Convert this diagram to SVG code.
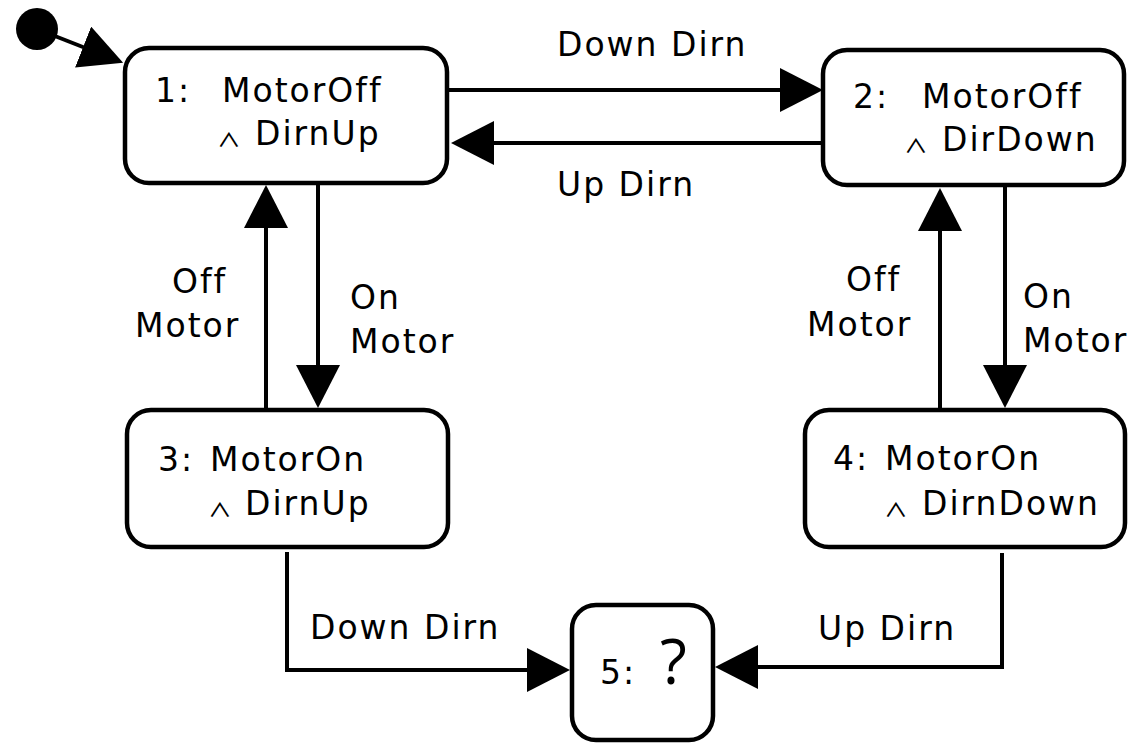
<svg xmlns="http://www.w3.org/2000/svg" width="1128" height="743" viewBox="0 0 1128 743">
  <style>
    .state { fill: #ffffff; stroke: #000000; stroke-width: 4.5; }
    .edge { fill: none; stroke: #000000; stroke-width: 4; marker-end: url(#arrow); }
    text { font-family: "DejaVu Sans", Verdana, sans-serif; font-size: 33px; letter-spacing: 2px; fill: #000000; }
    .and { font-family: "Noto Sans CJK SC", "DejaVu Sans", sans-serif; font-weight: 500; font-size: 28px; letter-spacing: 0; }
    .big { font-family: "Open Sans", "DejaVu Sans", sans-serif; font-size: 62px; letter-spacing: 0; }
  </style>
  <defs>
    <marker id="arrow" viewBox="0 0 43 44" refX="23" refY="22" markerWidth="43" markerHeight="44" markerUnits="userSpaceOnUse" orient="auto">
      <path d="M0,0 L43,22 L0,44 Z" fill="#000000"/>
    </marker>
  </defs>

  <rect width="1128" height="743" fill="#ffffff"/>

  <!-- transitions -->
  <g id="connectors">
    <circle cx="37" cy="29" r="21" fill="#000000"/>
    <line class="edge" x1="37" y1="29" x2="104.5" y2="55.5"/>
    <line class="edge" x1="449" y1="90" x2="803" y2="90"/>
    <line class="edge" x1="823" y1="143" x2="471" y2="143"/>
    <line class="edge" x1="318" y1="183" x2="318" y2="388"/>
    <line class="edge" x1="266" y1="410" x2="266" y2="205"/>
    <line class="edge" x1="1005" y1="185" x2="1005" y2="388"/>
    <line class="edge" x1="940" y1="410" x2="940" y2="208"/>
    <polyline class="edge" points="287,552 287,670 550,670"/>
    <polyline class="edge" points="1002,553 1002,667 735,667"/>

    <text x="557" y="56">Down Dirn</text>
    <text x="557" y="196">Up Dirn</text>
    <text x="172" y="293">Off</text>
    <text x="135" y="337">Motor</text>
    <text x="350" y="309">On</text>
    <text x="350" y="353">Motor</text>
    <text x="846" y="291">Off</text>
    <text x="807" y="336">Motor</text>
    <text x="1023" y="308">On</text>
    <text x="1023" y="352">Motor</text>
    <text x="310" y="639">Down Dirn</text>
    <text x="818" y="640">Up Dirn</text>
  </g>

  <!-- states; the "and" sign is flattened -->
  <g id="state1">
    <rect class="state" x="125" y="48" width="322" height="135" rx="24"/>
    <text y="102"><tspan x="155">1:</tspan><tspan x="222">MotorOff</tspan></text>
    <text class="and" transform="translate(217,147) scale(0.85,0.68)">∧</text>
    <text x="255" y="145">DirnUp</text>
  </g>
  <g id="state2">
    <rect class="state" x="823" y="50" width="301" height="135" rx="24"/>
    <text y="108"><tspan x="853">2:</tspan><tspan x="922">MotorOff</tspan></text>
    <text class="and" transform="translate(904,153) scale(0.85,0.68)">∧</text>
    <text x="942" y="151">DirDown</text>
  </g>
  <g id="state3">
    <rect class="state" x="127" y="410" width="321" height="137" rx="24"/>
    <text y="471"><tspan x="158">3:</tspan><tspan x="210">MotorOn</tspan></text>
    <text class="and" transform="translate(208,517) scale(0.85,0.68)">∧</text>
    <text x="245" y="515">DirnUp</text>
  </g>
  <g id="state4">
    <rect class="state" x="805" y="410" width="320" height="137" rx="24"/>
    <text y="470"><tspan x="833">4:</tspan><tspan x="885">MotorOn</tspan></text>
    <text class="and" transform="translate(884,517) scale(0.85,0.68)">∧</text>
    <text x="922" y="515">DirnDown</text>
  </g>
  <g id="state5">
    <rect class="state" x="572" y="605" width="141" height="135" rx="24"/>
    <text x="600" y="684">5:</text>
    <text class="big" x="660" y="684">?</text>
  </g>
</svg>
